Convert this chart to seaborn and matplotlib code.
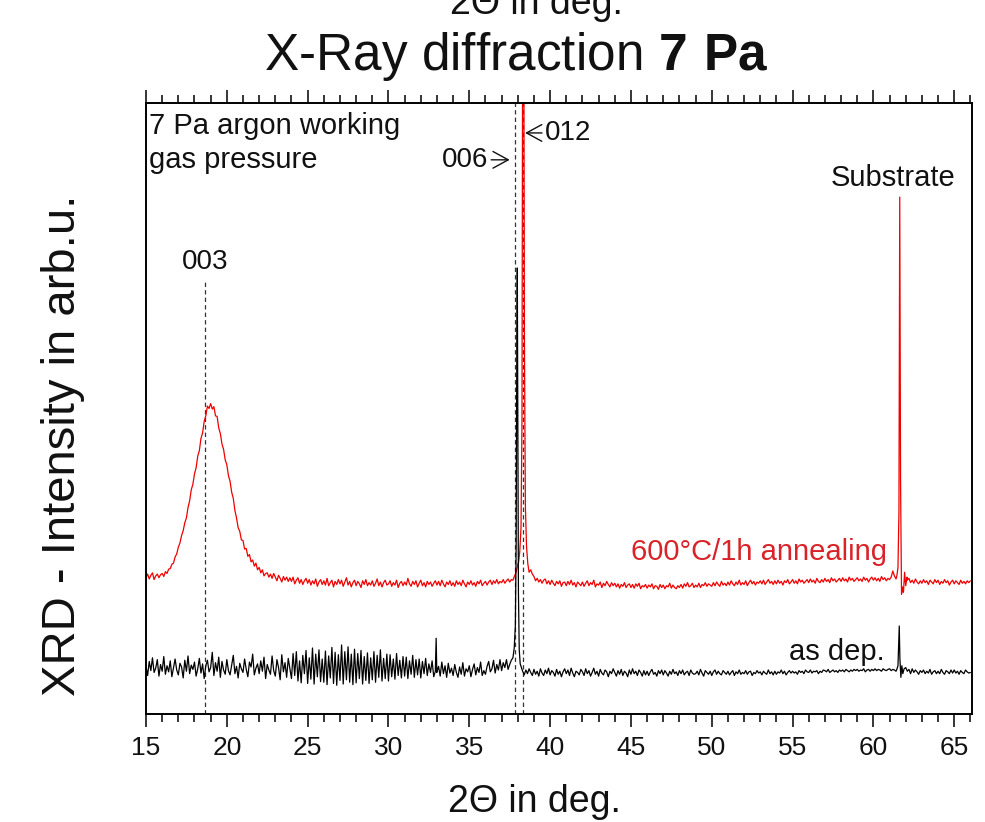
import matplotlib
matplotlib.use("Agg")
import matplotlib.pyplot as plt
from matplotlib.ticker import MultipleLocator
import numpy as np
import pandas as pd
import seaborn as sns

# 2-theta grid: 15.0 .. 66.0 in 0.1 deg steps (10 values per degree row)
STEP = 0.1
START = 15.0

# annealed film (600 C / 1h), arb. units
red_rows = [
    [22.3, 22.9, 22.1, 22.7, 23.1, 22.0, 22.6, 22.9, 22.3, 22.8],  # 15
    [23.0, 22.5, 23.3, 23.0, 23.7, 23.8, 24.5, 24.7, 25.7, 26.2],
    [27.3, 28.0, 29.2, 30.0, 31.3, 32.1, 33.8, 34.9, 36.7, 37.6],
    [39.3, 40.3, 42.2, 43.1, 45.1, 46.0, 47.9, 48.8, 50.4, 50.0],
    [50.8, 49.9, 50.3, 48.8, 48.7, 46.8, 45.9, 44.2, 43.3, 41.6],
    [40.8, 39.0, 38.1, 36.3, 35.3, 33.3, 32.1, 30.5, 29.9, 28.5],  # 20
    [28.4, 27.0, 27.1, 25.8, 26.1, 24.9, 25.2, 24.2, 24.7, 23.6],
    [24.0, 23.1, 23.6, 22.6, 23.0, 23.1, 22.4, 22.9, 22.2, 23.0],
    [22.4, 21.8, 22.7, 22.2, 21.6, 22.5, 21.9, 22.4, 21.7, 22.3],
    [21.7, 22.4, 21.3, 21.9, 22.3, 21.4, 22.0, 21.2, 21.8, 22.2],
    [21.4, 22.0, 21.1, 21.8, 21.3, 22.1, 20.9, 21.6, 22.0, 21.2],  # 25
    [21.8, 21.1, 22.2, 21.0, 21.5, 21.9, 20.8, 21.7, 21.2, 22.0],
    [21.3, 21.9, 20.9, 21.6, 22.3, 21.1, 21.7, 20.8, 21.5, 21.9],
    [21.0, 21.7, 21.3, 20.7, 21.8, 21.2, 22.0, 21.0, 21.5, 21.1],
    [21.8, 20.9, 21.4, 22.1, 21.0, 21.6, 20.8, 21.5, 21.9, 21.1],
    [21.3, 21.8, 20.9, 21.5, 21.1, 21.9, 20.7, 21.4, 21.7, 21.0],  # 30
    [21.6, 21.1, 22.2, 21.3, 20.9, 21.7, 21.2, 21.8, 20.8, 21.4],
    [21.9, 21.0, 21.5, 20.8, 21.7, 21.2, 21.6, 20.9, 21.4, 21.8],
    [21.1, 21.7, 21.0, 21.9, 21.3, 20.8, 21.6, 21.2, 21.8, 21.0],
    [21.5, 20.9, 21.8, 21.2, 21.6, 21.0, 21.9, 21.3, 20.8, 21.6],
    [21.2, 21.8, 21.1, 21.5, 20.9, 21.7, 21.3, 21.9, 21.0, 21.4],  # 35
    [21.7, 21.1, 21.6, 21.9, 21.2, 21.8, 21.4, 22.0, 21.3, 21.7],
    [21.5, 22.0, 21.4, 21.8, 22.1, 21.6, 22.0, 21.9, 22.6, 23.2],
    [24.5, 26.5, 30.0, 60.0, 45.0, 32.0, 28.0, 24.6, 23.6, 22.9],
    [22.5, 21.8, 22.2, 21.6, 22.0, 21.4, 21.9, 22.1, 21.3, 21.8],
    [21.2, 21.9, 21.4, 21.0, 21.7, 21.3, 21.8, 20.9, 21.5, 21.6],  # 40
    [21.0, 21.7, 21.2, 21.9, 21.1, 21.5, 20.8, 21.6, 21.3, 21.0],
    [21.6, 20.9, 21.4, 21.8, 21.0, 21.5, 21.2, 21.9, 20.8, 21.3],
    [21.1, 21.6, 20.7, 21.4, 21.0, 21.7, 21.2, 20.8, 21.5, 21.0],
    [21.4, 20.8, 21.3, 20.6, 21.2, 20.9, 21.5, 20.7, 21.1, 21.3],
    [20.7, 21.2, 20.6, 21.3, 20.9, 21.4, 20.5, 21.0, 20.8, 21.2],  # 45
    [20.6, 21.1, 20.8, 21.3, 20.5, 21.0, 20.9, 20.4, 21.2, 20.7],
    [21.1, 20.5, 21.0, 20.8, 21.4, 20.6, 21.1, 20.7, 20.5, 21.0],
    [20.7, 21.2, 20.6, 21.3, 20.9, 21.5, 20.8, 21.0, 21.4, 20.7],
    [21.1, 20.8, 21.4, 20.7, 21.2, 21.0, 21.5, 20.9, 21.3, 21.1],
    [20.9, 21.5, 21.0, 21.6, 21.2, 20.9, 21.7, 21.1, 21.4, 21.0],  # 50
    [21.6, 21.1, 21.8, 21.3, 21.0, 21.6, 21.2, 21.9, 21.1, 21.5],
    [21.2, 21.8, 21.0, 21.5, 21.9, 21.3, 21.7, 21.1, 21.6, 21.4],
    [21.8, 21.3, 21.9, 21.2, 21.6, 22.0, 21.4, 21.7, 21.2, 21.8],
    [21.3, 21.9, 21.4, 21.7, 21.1, 21.8, 21.5, 22.0, 21.3, 21.6],
    [22.0, 21.4, 21.8, 21.3, 22.1, 21.6, 21.9, 21.4, 21.7, 22.0],  # 55
    [21.5, 22.1, 21.6, 21.9, 21.4, 22.2, 21.7, 21.5, 22.0, 21.6],
    [22.2, 21.7, 22.0, 21.5, 22.3, 21.8, 22.1, 21.6, 21.9, 22.2],
    [21.7, 22.3, 21.8, 22.1, 21.6, 22.4, 21.9, 22.2, 21.7, 22.0],
    [22.3, 21.8, 22.1, 21.7, 22.4, 21.9, 22.2, 21.6, 22.1, 22.4],
    [21.9, 22.3, 21.8, 22.2, 21.7, 22.5, 22.0, 22.3, 21.8, 22.2],  # 60
    [22.0, 22.4, 23.4, 22.6, 22.1, 22.5, 30.0, 40.0, 20.8, 21.0],
    [21.0, 21.9, 22.2, 21.5, 21.9, 21.4, 22.1, 21.6, 21.3, 21.8],
    [21.4, 22.0, 21.5, 21.8, 21.2, 21.9, 21.6, 21.3, 22.0, 21.5],
    [21.9, 21.2, 21.7, 21.4, 22.0, 21.5, 21.8, 21.1, 21.6, 21.9],
    [21.3, 21.8, 21.5, 21.2, 21.9, 21.4, 21.7, 21.3, 21.8, 21.5],  # 65
    [21.8],
]

# as deposited film
black_rows = [
    [7.8, 6.3, 8.6, 7.1, 9.2, 6.8, 7.5, 8.9, 6.2, 8.1],  # 15
    [7.0, 9.4, 6.5, 7.9, 6.9, 8.7, 6.1, 7.6, 9.0, 7.2],
    [6.4, 8.3, 7.7, 5.9, 8.8, 7.0, 9.5, 6.6, 8.0, 7.3],
    [8.5, 6.2, 7.4, 9.1, 6.7, 8.2, 5.8, 7.9, 8.8, 6.9],
    [7.6, 10.1, 6.3, 8.4, 7.0, 9.3, 6.0, 8.6, 7.2, 6.5],
    [8.9, 7.1, 6.4, 8.0, 9.6, 6.6, 7.8, 5.9, 8.3, 7.4],  # 20
    [6.8, 9.0, 7.3, 6.1, 8.5, 7.7, 9.8, 6.4, 7.5, 8.2],
    [6.6, 8.7, 7.0, 9.3, 5.8, 8.1, 7.2, 6.5, 9.5, 7.1],
    [6.2, 8.9, 7.6, 5.6, 9.7, 6.9, 8.4, 6.0, 9.1, 7.4],
    [5.8, 9.9, 6.3, 10.2, 5.4, 8.7, 5.1, 9.6, 6.6, 10.4],
    [5.0, 9.2, 5.7, 10.8, 4.9, 9.8, 6.1, 10.5, 5.3, 9.0],  # 25
    [5.2, 10.3, 4.8, 9.5, 5.9, 10.9, 5.0, 10.1, 4.7, 9.7],
    [5.5, 11.3, 4.9, 10.2, 5.6, 11.0, 5.2, 9.8, 4.8, 10.6],
    [5.1, 9.9, 5.8, 10.4, 4.9, 9.4, 5.5, 10.0, 5.0, 9.2],
    [5.6, 10.2, 5.2, 9.6, 6.0, 10.5, 5.4, 9.1, 5.8, 9.8],
    [5.4, 9.7, 6.1, 9.0, 5.7, 9.9, 6.3, 8.8, 5.9, 9.4],  # 30
    [6.2, 9.3, 5.8, 8.7, 6.5, 9.6, 6.0, 8.9, 6.4, 9.0],
    [5.9, 8.6, 6.6, 9.1, 6.3, 8.2, 6.8, 8.7, 6.1, 8.0],
    [6.9, 7.8, 6.2, 8.5, 6.6, 7.9, 6.0, 8.3, 6.7, 7.5],
    [6.3, 8.1, 6.8, 6.0, 7.7, 6.5, 8.4, 6.2, 7.4, 6.9],
    [7.9, 6.1, 7.3, 8.2, 6.4, 7.6, 6.8, 8.5, 6.3, 7.1],  # 35
    [6.5, 7.8, 8.6, 6.9, 7.4, 8.8, 6.7, 8.1, 7.2, 8.9],
    [7.1, 8.4, 7.6, 8.9, 7.3, 8.1, 8.8, 8.4, 9.0, 9.4],
    [9.0, 8.0, 7.8, 7.0, 6.4, 7.2, 6.6, 7.4, 6.8, 6.3],
    [7.3, 6.5, 7.0, 6.2, 7.4, 6.7, 6.3, 7.2, 6.6, 7.5],
    [6.4, 7.1, 6.8, 6.2, 7.3, 6.5, 7.0, 6.1, 6.9, 7.4],  # 40
    [6.6, 7.2, 6.3, 7.5, 6.7, 6.1, 7.0, 6.8, 6.4, 7.3],
    [6.9, 6.3, 7.4, 6.6, 7.1, 6.2, 6.8, 7.5, 6.5, 7.0],
    [6.2, 7.3, 6.7, 6.4, 7.2, 6.9, 6.1, 7.0, 6.6, 7.4],
    [6.8, 6.2, 7.1, 6.5, 7.3, 6.3, 7.0, 6.7, 6.1, 7.2],
    [6.5, 7.4, 6.6, 7.0, 6.3, 7.2, 6.8, 6.2, 7.1, 6.4],  # 45
    [7.0, 6.3, 6.9, 7.3, 6.5, 6.8, 6.2, 7.1, 6.6, 7.2],
    [6.4, 7.1, 6.7, 6.2, 7.0, 6.5, 7.3, 6.6, 6.9, 6.3],
    [7.1, 6.6, 7.2, 6.4, 6.8, 7.0, 6.3, 7.2, 6.7, 6.5],
    [6.6, 7.0, 6.4, 7.3, 6.7, 6.2, 7.1, 6.8, 6.5, 7.0],
    [6.3, 6.9, 7.2, 6.5, 7.0, 6.6, 6.4, 7.1, 6.8, 6.5],  # 50
    [7.0, 6.4, 6.8, 7.1, 6.3, 6.9, 6.6, 7.2, 6.5, 6.8],
    [6.6, 7.1, 6.5, 6.9, 7.0, 6.3, 6.8, 6.6, 7.1, 6.7],
    [6.9, 6.4, 7.0, 6.7, 6.5, 7.2, 6.6, 6.9, 6.4, 7.0],
    [6.5, 6.9, 6.7, 7.2, 6.6, 7.0, 6.4, 6.8, 7.1, 6.7],
    [7.0, 6.7, 6.9, 6.5, 7.1, 6.8, 7.0, 6.6, 7.2, 6.9],  # 55
    [6.8, 7.2, 6.7, 7.0, 6.9, 7.1, 6.6, 7.0, 6.8, 7.2],
    [7.1, 6.9, 7.3, 6.8, 7.0, 7.2, 6.9, 7.1, 6.8, 7.2],
    [7.0, 7.2, 6.9, 7.3, 7.1, 6.9, 7.2, 7.0, 7.3, 7.1],
    [7.3, 7.0, 7.2, 7.1, 7.4, 6.9, 7.2, 7.3, 7.0, 7.3],
    [7.1, 7.4, 7.1, 7.3, 7.2, 7.0, 7.4, 7.2, 7.1, 7.3],  # 60
    [7.4, 7.1, 7.3, 7.2, 7.0, 7.3, 7.3, 7.3, 7.3, 7.3],
    [7.6, 7.0, 7.3, 6.6, 7.4, 6.8, 7.2, 6.9, 6.5, 7.1],
    [6.8, 7.2, 6.6, 7.0, 6.7, 7.3, 6.5, 6.9, 7.1, 6.6],
    [7.0, 6.6, 7.3, 6.8, 6.5, 7.1, 6.9, 6.6, 7.2, 6.7],
    [7.2, 6.7, 7.0, 6.5, 7.1, 6.8, 6.6, 7.2, 6.9, 6.7],  # 65
    [6.8],
]

# sharp reflections sampled finer (replace the grid inside their range)
red_012_x = [38.05, 38.12, 38.2, 38.26, 38.31, 38.36, 38.41, 38.47, 38.54, 38.62, 38.7]
red_012_y = [24.8, 26.5, 30.5, 48.0, 130.0, 130.0, 62.0, 34.0, 27.5, 24.6, 23.2]
red_sub_x = [61.45, 61.52, 61.58, 61.63, 61.68, 61.74, 61.8, 61.86, 61.93, 62.0, 62.08]
red_sub_y = [22.6, 24.0, 33.0, 84.6, 38.0, 19.6, 20.8, 19.9, 23.2, 21.0, 22.4]

black_006_x = [37.7, 37.78, 37.85, 37.9, 37.94, 37.97, 38.0, 38.04, 38.09, 38.15]
black_006_y = [9.2, 10.8, 14.5, 28.0, 60.0, 73.0, 48.0, 20.0, 10.5, 8.2]
black_spike_x = [32.9, 32.95, 32.99]
black_spike_y = [7.0, 12.4, 6.8]
black_sub_x = [61.45, 61.52, 61.56, 61.6, 61.64, 61.7, 61.76, 61.82, 61.9]
black_sub_y = [7.3, 7.9, 11.0, 14.4, 9.0, 6.0, 7.9, 6.6, 7.4]

# reference reflection positions (dashed)
ref_003 = 18.65
ref_006 = 37.8
ref_012 = 38.35

RED_LINE = "#f00000"
RED_TEXT = "#d92328"
INK = "#111111"


def build_curve(rows, peaks):
    values = np.concatenate([np.asarray(r, dtype=float) for r in rows])
    x = np.round(START + STEP * np.arange(len(values)), 2)
    df = pd.DataFrame({"two_theta": x, "intensity": values})
    for px, py in peaks:
        lo, hi = min(px), max(px)
        df = df[(df["two_theta"] < lo) | (df["two_theta"] > hi)]
        df = pd.concat([df, pd.DataFrame({"two_theta": px, "intensity": py})])
    return df.sort_values("two_theta").reset_index(drop=True)


red_df = build_curve(red_rows, [(red_012_x, red_012_y), (red_sub_x, red_sub_y)])
black_df = build_curve(
    black_rows,
    [(black_spike_x, black_spike_y), (black_006_x, black_006_y), (black_sub_x, black_sub_y)],
)

sns.set_style("ticks")
plt.rcParams["font.family"] = ["Liberation Sans", "DejaVu Sans"]
plt.rcParams["mathtext.fontset"] = "custom"
plt.rcParams["mathtext.rm"] = "Liberation Sans"
plt.rcParams["mathtext.bf"] = "Liberation Sans:bold"
plt.rcParams["text.color"] = INK
plt.rcParams["xtick.color"] = "black"
plt.rcParams["xtick.labelcolor"] = INK

fig = plt.figure(figsize=(9.85, 8.22), dpi=100)
ax = fig.add_axes([146 / 985, 108 / 822, 826 / 985, 611 / 822])

dash = (0, (3.5, 2.5))
ax.plot([ref_003, ref_003], [0, 71], color="#333333", lw=0.9, ls=dash, zorder=1)
ax.axvline(ref_006, color="#333333", lw=0.9, ls=dash, zorder=1)
ax.axvline(ref_012, color="#333333", lw=0.9, ls=dash, zorder=1)

sns.lineplot(data=red_df, x="two_theta", y="intensity", ax=ax, color=RED_LINE,
             lw=0.9, estimator=None, sort=False, zorder=2)
sns.lineplot(data=black_df, x="two_theta", y="intensity", ax=ax, color="black",
             lw=0.9, estimator=None, sort=False, zorder=3)

ax.set_xlim(15, 66.1)
ax.set_ylim(0, 100)
ax.set_xticks(range(15, 66, 5))
ax.xaxis.set_minor_locator(MultipleLocator(1))
ax.set_yticks([])
ax.set_xlabel("")
ax.set_ylabel("")
ax.tick_params(axis="x", which="both", direction="out", top=True, bottom=True,
               labeltop=False, labelsize=19, width=1.1, pad=6)
ax.tick_params(axis="x", which="major", length=9.5)
ax.tick_params(axis="x", which="minor", length=5.5)
for side in ax.spines.values():
    side.set_linewidth(1.4)
    side.set_color("black")

# annotations
head = "->,head_length=0.55,head_width=0.3"
ax.text(0.004, 0.985, "7 Pa argon working\ngas pressure", transform=ax.transAxes,
        ha="left", va="top", fontsize=21, linespacing=1.25)
ax.text(ref_003, 74.0, "003", ha="center", va="center", fontsize=20)
ax.annotate("006", xy=(37.5, 90.7), xytext=(36.15, 90.7), ha="right", va="center",
            fontsize=20,
            arrowprops=dict(arrowstyle=head, lw=1.0, color=INK, shrinkA=0, shrinkB=0))
ax.annotate("012", xy=(38.45, 95.1), xytext=(39.7, 95.1), ha="left", va="center",
            fontsize=20,
            arrowprops=dict(arrowstyle=head, lw=1.0, color=INK, shrinkA=0, shrinkB=0))
ax.text(61.22, 87.7, "Substrate", ha="center", va="center", fontsize=21)
ax.text(60.85, 26.5, "600°C/1h annealing", ha="right", va="center", fontsize=21, color=RED_TEXT)
ax.text(60.67, 10.1, "as dep.", ha="right", va="center", fontsize=21)

# figure level labels (the top one is cut by the page edge, as in the source)
fig.text(516 / 985, 1 - 70 / 822, r"X-Ray diffraction $\mathbf{7\ Pa}$", ha="center",
         va="baseline", fontsize=37)
fig.text(536 / 985, 1 - 14 / 822, "2Θ in deg.", ha="center", va="baseline", fontsize=27)
fig.text(534 / 985, 1 - 812 / 822, "2Θ in deg.", ha="center", va="baseline", fontsize=27)
fig.text(63 / 985, 1 - 445 / 822, "XRD - Intensity in arb.u.", rotation=90,
         ha="center", va="center", fontsize=34)

fig.savefig("out.png", dpi=100)
